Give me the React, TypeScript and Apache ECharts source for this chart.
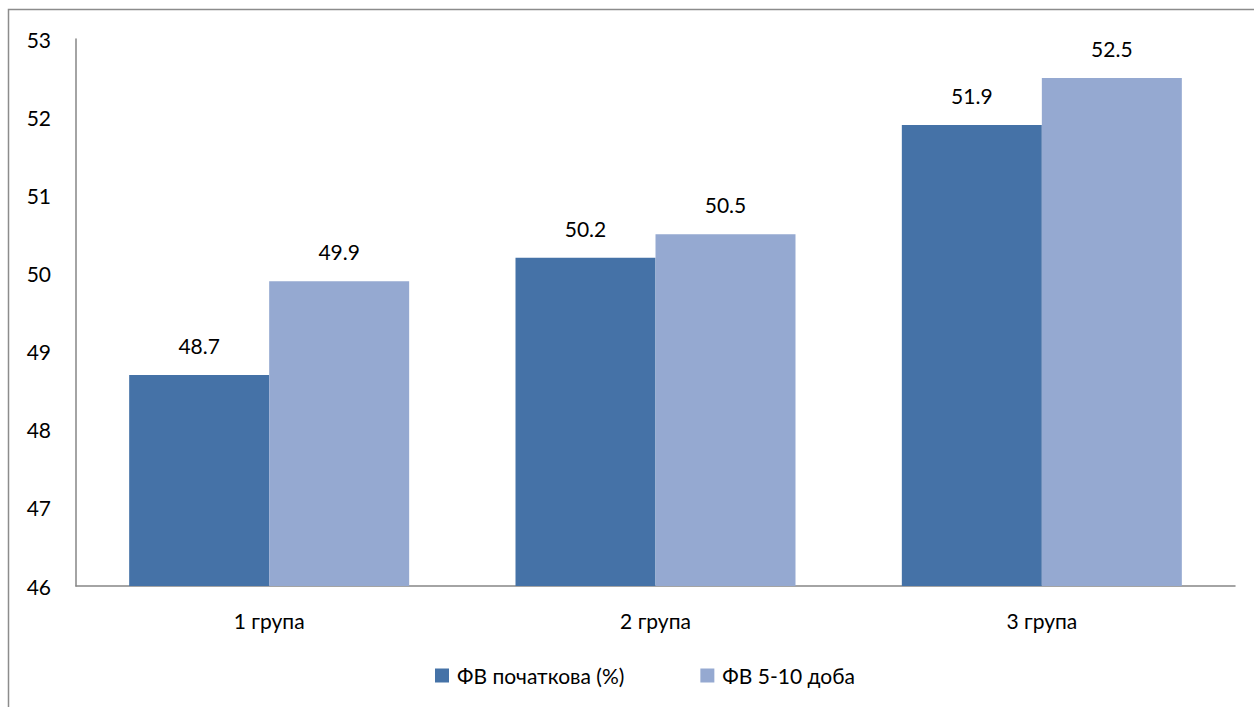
import React, { useEffect, useRef } from "react";
import * as echarts from "echarts";

const categories = ["1 група", "2 група", "3 група"];
const seriesNames = ["ФВ початкова (%)", "ФВ 5-10 доба"];
const initialValues = [48.7, 50.2, 51.9];
const laterValues = [49.9, 50.5, 52.5];
const yMin = 46;
const yMax = 53;

const FONT = "Lato, 'Open Sans', sans-serif";
const FONT_SIZE = 21;

export default function App() {
  const ref = useRef<HTMLDivElement>(null);

  useEffect(() => {
    if (!ref.current) return;
    const chart = echarts.init(ref.current, undefined, { renderer: "svg" });
    const labelStyle = {
      show: true,
      position: "top" as const,
      distance: 19,
      color: "#000",
      fontSize: FONT_SIZE,
      fontFamily: FONT,
      formatter: (p: any) => Number(p.value).toFixed(1),
    };
    chart.setOption({
      animation: false,
      backgroundColor: "#fff",
      textStyle: { fontFamily: FONT },
      graphic: [
        {
          type: "rect",
          shape: { x: 8.5, y: 9.5, width: 1400, height: 900 },
          style: { fill: "none", stroke: "#8c8c8c", lineWidth: 1.5 },
          silent: true,
          z: -1,
        },
      ],
      grid: { left: 76, right: 19, top: 39, bottom: 121 },
      legend: {
        bottom: 16,
        left: 430,
        itemWidth: 14,
        itemHeight: 14,
        itemGap: 76,
        icon: "rect",
        textStyle: {
          fontSize: FONT_SIZE,
          color: "#000",
          fontFamily: FONT,
          padding: [0, 0, 0, 3],
        },
        data: seriesNames,
      },
      xAxis: {
        type: "category",
        data: categories,
        axisLine: { lineStyle: { color: "#868686", width: 1.5 } },
        axisTick: { show: false },
        axisLabel: { color: "#000", fontSize: FONT_SIZE, margin: 24, fontFamily: FONT },
      },
      yAxis: {
        type: "value",
        min: yMin,
        max: yMax,
        interval: 1,
        axisLine: { show: true, lineStyle: { color: "#868686", width: 1.5 } },
        axisTick: { show: false },
        splitLine: { show: false },
        axisLabel: { color: "#000", fontSize: FONT_SIZE, margin: 25, fontFamily: FONT },
      },
      series: [
        {
          name: seriesNames[0],
          type: "bar",
          data: initialValues,
          barWidth: 140,
          barGap: "0%",
          itemStyle: { color: "#4572A7" },
          label: labelStyle,
        },
        {
          name: seriesNames[1],
          type: "bar",
          data: laterValues,
          barWidth: 140,
          barGap: "0%",
          itemStyle: { color: "#95A9D1" },
          label: labelStyle,
        },
      ],
    });
    return () => chart.dispose();
  }, []);

  return (
    <div
      ref={ref}
      style={{ position: "fixed", left: 0, top: 0, width: 1254, height: 707 }}
    />
  );
}
